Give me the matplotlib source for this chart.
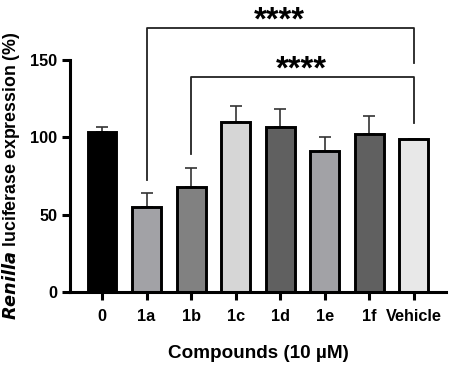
import numpy as np
import matplotlib
matplotlib.use("Agg")
import matplotlib.pyplot as plt

plt.rcParams['font.family'] = ['Liberation Sans', 'DejaVu Sans']
plt.rcParams['font.weight'] = 'bold'

labels = ["0", "1a", "1b", "1c", "1d", "1e", "1f", "Vehicle"]
means = [103.4, 55.2, 67.7, 109.7, 106.4, 91.1, 101.9, 99.0]
errs = [3.3, 8.6, 12.7, 10.9, 11.9, 9.1, 11.7, 0.0]
colors = ["#000000", "#a2a2a6", "#818181", "#d6d6d6", "#606060", "#a2a2a6", "#606060", "#e8e8e8"]

# brackets: (left index, right index, bar height, left drop, right drop)
brackets = [(1, 7, 170.4, 72.4, 147.8), (2, 7, 138.8, 89.2, 109.0)]
stars = [(3.98, 169.4, "****"), (4.47, 137.7, "****")]

fig = plt.figure(figsize=(4.51, 3.66), dpi=100)
ax = fig.add_axes([0.155, 0.202, 0.834, 0.634])

x = np.arange(len(labels))
ax.errorbar(x, means, yerr=[np.zeros(len(errs)), errs], fmt='none',
            ecolor='#333333', elinewidth=1.2, capsize=4.5, capthick=1.2, zorder=1)
ax.bar(x, means, width=0.65, color=colors, edgecolor='black', linewidth=2.1, zorder=2)

for l, r, h, dl, dr in brackets:
    ax.plot([l, l, r, r], [dl, h, h, dr], color='#222222', lw=1.3, clip_on=False)

for sx, sy, s in stars:
    ax.text(sx, sy, s, ha='center', va='baseline', fontsize=23.5, fontweight='bold', clip_on=False)

ax.set_xlim(-0.72, 7.72)
ax.set_ylim(0, 150)
ax.set_yticks([0, 50, 100, 150])
ax.set_xticks(x)
ax.set_xticklabels(labels, fontsize=11.7, fontweight='bold')
ax.tick_params(axis='y', labelsize=11.7, width=2.2, length=6, pad=3)
ax.tick_params(axis='x', width=2.2, length=6, pad=6)
for t in ax.get_yticklabels():
    t.set_fontweight('bold')

for s in ['top', 'right']:
    ax.spines[s].set_visible(False)
for s in ['left', 'bottom']:
    ax.spines[s].set_linewidth(2.2)

ax.set_ylabel(r"$\bf{\it{Renilla}}$ luciferase expression (%)", fontsize=12.8, fontweight='bold', labelpad=6)
ax.set_xlabel("Compounds (10 µM)", fontsize=13.6, fontweight='bold', labelpad=15)

fig.savefig("out.png", dpi=100)
